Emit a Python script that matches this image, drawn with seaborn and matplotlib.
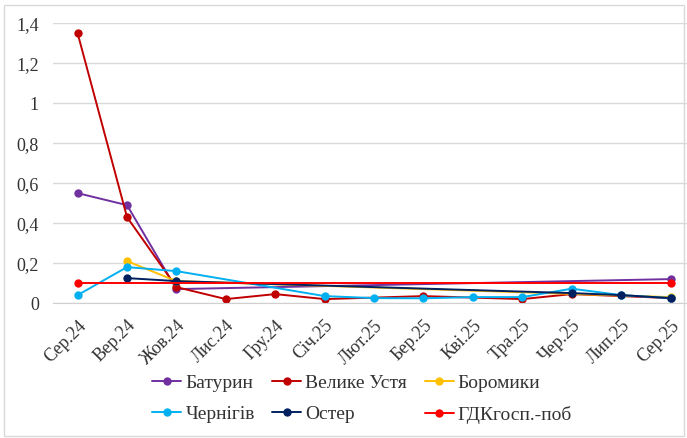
import numpy as np
import pandas as pd
import matplotlib
matplotlib.use('Agg')
import matplotlib.pyplot as plt
import seaborn as sns
from matplotlib import font_manager
from matplotlib.patches import Rectangle

# month labels (Ukrainian abbreviations)
months = ['Сер.24', 'Вер.24', 'Жов.24', 'Лис.24', 'Гру.24', 'Січ.25', 'Лют.25',
          'Бер.25', 'Кві.25', 'Тра.25', 'Чер.25', 'Лип.25', 'Сер.25']

nan = np.nan
baturyn = [0.55, 0.49, 0.07, nan, nan, nan, nan, nan, nan, nan, nan, nan, 0.12]
velyke_ustia = [1.35, 0.43, 0.08, 0.02, 0.045, 0.02, nan, 0.035, nan, 0.02, 0.045, nan, 0.025]
boromyky = [nan, 0.21, 0.11, nan, nan, nan, nan, nan, nan, nan, nan, nan, 0.03]
chernihiv = [0.04, 0.18, 0.16, nan, nan, 0.035, 0.025, 0.024, 0.03, 0.03, 0.072, 0.04, 0.025]
oster = [nan, 0.125, 0.11, nan, nan, nan, nan, nan, nan, nan, 0.05, 0.04, 0.025]
gdk = [0.10, nan, nan, nan, nan, nan, nan, nan, nan, nan, nan, nan, 0.10]

series_names = ['Батурин', 'Велике Устя', 'Боромики', 'Чернігів', 'Остер', 'ГДКгосп.-поб']
series_values = [baturyn, velyke_ustia, boromyky, chernihiv, oster, gdk]
palette = ['#7030A0', '#C00000', '#FFC000', '#00B0F0', '#002060', '#FF0000']

rows = []
for name, vals in zip(series_names, series_values):
    for i, v in enumerate(vals):
        if not np.isnan(v):
            rows.append({'month': i, 'value': v, 'station': name})
df = pd.DataFrame(rows)

sns.set_style('white')
plt.rcParams['font.family'] = ['Liberation Serif', 'DejaVu Serif']

# pin the serif face by file so nothing falls back to sans
serif_path = font_manager.findfont(font_manager.FontProperties(family='Liberation Serif'))
fp = font_manager.FontProperties(fname=serif_path, size=13)
fp_leg = font_manager.FontProperties(fname=serif_path, size=14)

fig = plt.figure(figsize=(6.87, 4.38), dpi=100)
ax = fig.add_axes([0.077, 0.308, 0.935, 0.639])

sns.lineplot(data=df, x='month', y='value', hue='station', hue_order=series_names,
             palette=palette, marker='o', markersize=6, markeredgewidth=0,
             linewidth=1.4, sort=True, ax=ax, legend=False)

ax.set_xlim(-0.5, len(months) - 0.5)
ax.set_ylim(0, 1.4)
ax.set_yticks(np.arange(0, 1.41, 0.2))
ax.set_yticklabels(['0', '0,2', '0,4', '0,6', '0,8', '1', '1,2', '1,4'],
                   fontproperties=fp, color='#333333')
ax.set_xticks(range(len(months)))
ax.set_xticklabels(months, rotation=45, ha='right', rotation_mode='anchor',
                   fontproperties=fp, color='#333333')
ax.tick_params(axis='x', length=0, pad=10)
ax.tick_params(axis='y', length=0, pad=10)
# tick marks between categories
ax.set_xticks(np.arange(-0.5, len(months), 1), minor=True)
ax.tick_params(axis='x', which='minor', length=5, color='#d0d0d0', width=1)
ax.grid(axis='y', color='#d9d9d9', linewidth=1)
ax.set_axisbelow(True)
for s in ['top', 'right', 'left']:
    ax.spines[s].set_visible(False)
ax.spines['bottom'].set_color('#d0d0d0')
ax.set_xlabel('')
ax.set_ylabel('')

# legend at the bottom, 3 columns x 2 rows
handles = [plt.Line2D([], [], color=c, marker='o', markersize=6, markeredgewidth=0, linewidth=1.4)
           for c in palette]
order = [0, 3, 1, 4, 2, 5]
leg = fig.legend([handles[i] for i in order], [series_names[i] for i in order],
                 loc='center', bbox_to_anchor=(0.527, 0.089), ncol=3, frameon=False,
                 prop=fp_leg, handlelength=1.5, handletextpad=0.2, columnspacing=0.9,
                 labelspacing=0.7)
for t in leg.get_texts():
    t.set_color('#333333')

# light chart border
fig.patches.append(Rectangle((0.006, 0.004), 0.99, 0.985, transform=fig.transFigure,
                             fill=False, edgecolor='#d9d9d9', linewidth=1))

fig.savefig('out.png', dpi=100)
